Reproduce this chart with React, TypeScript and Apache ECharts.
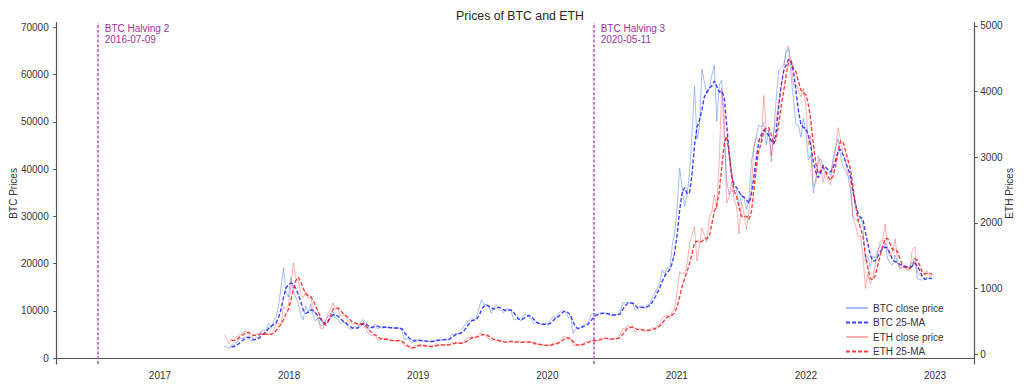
import React, { useEffect, useRef } from "react";
import * as echarts from "echarts";

// Weekly samples (Saturdays) starting 2017-07-01
const START_DATE = "2017-07-01";
const STEP_DAYS = 7;

const btcClose2017 = [2500, 2500, 1930, 2830, 2750, 3230, 4070, 4150, 4350, 4580, 4330, 3680, 3780, 4340, 4440, 5680, 5990, 5750, 7400, 6350, 7790, 8750, 10970, 14870, 19140, 14000, 12950];
const btcClose2018 = [17150, 14300, 12900, 11500, 9170, 8130, 11100, 9660, 11500, 9000, 7900, 8600, 6930, 7020, 8000, 8900, 9350, 9800, 8500, 8250, 7350, 7700, 7500, 6500, 6100, 6400, 6750, 6250, 7400, 8200, 7000, 6300, 6400, 6700, 7200, 6250, 6500, 6700, 6600, 6580, 6300, 6420, 6400, 6370, 6400, 5600, 3900, 4200, 3600, 3200, 4000, 3800];
const btcClose2019 = [3850, 3600, 3650, 3580, 3500, 3660, 3670, 4140, 3820, 3930, 4050, 4000, 4100, 5050, 5100, 5300, 5200, 5830, 7000, 7300, 8050, 8550, 7950, 8800, 10700, 12400, 11200, 11400, 10800, 9500, 10800, 11300, 10200, 10140, 9600, 10480, 10360, 9990, 8200, 8150, 8300, 7950, 9250, 9300, 8800, 8500, 7300, 7550, 7500, 7100, 7150, 7300];
const btcClose2020 = [7350, 8180, 8900, 8450, 9390, 9900, 10300, 9700, 8550, 8900, 5200, 6200, 6250, 6750, 6880, 7140, 7550, 8900, 9550, 9400, 9170, 9700, 9660, 9460, 9300, 9000, 9070, 9280, 9170, 9700, 11800, 11680, 11900, 11650, 11700, 10100, 10400, 11080, 10700, 10550, 11300, 11360, 13000, 13800, 14800, 16000, 18700, 17700, 19150, 18800, 23800, 26500];
const btcClose2021 = [32000, 40200, 36200, 32100, 34300, 39300, 47200, 57500, 46300, 48900, 61200, 58300, 55900, 57100, 59800, 62000, 50100, 57800, 58800, 46700, 37500, 34600, 35500, 35500, 35600, 32200, 34700, 33800, 31500, 33800, 41500, 44600, 47100, 49300, 48900, 49900, 45100, 48300, 42800, 47700, 54900, 60900, 61300, 62000, 64500, 65500, 59700, 54800, 49400, 49300, 46700, 50800];
const btcClose2022 = [47700, 41900, 43100, 35000, 37900, 41500, 42200, 40100, 39200, 39400, 38800, 42200, 44500, 46400, 42800, 40500, 39700, 38500, 35500, 30100, 29400, 29000, 29700, 28400, 20500, 21500, 19300, 21600, 21200, 22600, 23800, 23200, 24400, 21100, 20000, 19800, 21800, 20100, 18900, 19300, 19400, 19100, 19200, 20600, 21300, 16800, 16700, 16500, 17000, 17100, 16800, 16800];

const btcMa2017 = [null, null, null, 2400, 2500, 2700, 3100, 3600, 4000, 4300, 4450, 4250, 3950, 3950, 4200, 4650, 5200, 5650, 6300, 6800, 7100, 7500, 8600, 10300, 12800, 14800, 15600];
const btcMa2018 = [15900, 15700, 14800, 13500, 11900, 10200, 9500, 9700, 10200, 10100, 9600, 8900, 8300, 7600, 7400, 7900, 8600, 9200, 9200, 8900, 8400, 7900, 7600, 7100, 6700, 6400, 6400, 6400, 6800, 7300, 7400, 7000, 6600, 6500, 6800, 6800, 6600, 6500, 6550, 6600, 6500, 6450, 6420, 6400, 6390, 6200, 5400, 4700, 4200, 3800, 3650, 3750];
const btcMa2019 = [3750, 3750, 3700, 3620, 3560, 3560, 3600, 3750, 3850, 3900, 3920, 3980, 4020, 4400, 4800, 5150, 5200, 5400, 5900, 6600, 7300, 7900, 8100, 8300, 9000, 10300, 11000, 11300, 11000, 10700, 10400, 10600, 10800, 10600, 10200, 10100, 10200, 10200, 9700, 8900, 8300, 8200, 8400, 8800, 9050, 8900, 8300, 7700, 7400, 7300, 7200, 7200];
const btcMa2020 = [7250, 7500, 8000, 8500, 8800, 9300, 9800, 9950, 9600, 9050, 7700, 6600, 6300, 6400, 6700, 6900, 7200, 7800, 8500, 9000, 9250, 9400, 9500, 9550, 9450, 9300, 9150, 9150, 9200, 9400, 10300, 11100, 11600, 11700, 11700, 11200, 10700, 10700, 10800, 10750, 10900, 11200, 11900, 12800, 13900, 14900, 16300, 17400, 18200, 18700, 20100, 22400];
const btcMa2021 = [26200, 31300, 35000, 36100, 34800, 35000, 38900, 45000, 48800, 50300, 52500, 55300, 56300, 57100, 57600, 58600, 57500, 56300, 56500, 55300, 49400, 43300, 38500, 36600, 36100, 35200, 34300, 34100, 33500, 32800, 34800, 38400, 42500, 45900, 47300, 48300, 47800, 47100, 46000, 45300, 48000, 53200, 57700, 60700, 62000, 63200, 62800, 60500, 56500, 52300, 49400, 48800];
const btcMa2022 = [48600, 47200, 44800, 41500, 39300, 38200, 39300, 40800, 40400, 39800, 39400, 40300, 41900, 43800, 44200, 43000, 41600, 40100, 38500, 35200, 32700, 30700, 29800, 29400, 26700, 24300, 21800, 20600, 20600, 21500, 22500, 23200, 23500, 23300, 22100, 20900, 20400, 20300, 19800, 19600, 19500, 19300, 19300, 19500, 20100, 19500, 18500, 17300, 16700, 16800, 16900, 16900];

const ethClose2017 = [290, 240, 155, 230, 205, 255, 300, 295, 345, 350, 295, 255, 285, 300, 310, 335, 300, 295, 300, 315, 350, 470, 465, 455, 720, 690, 740];
const ethClose2018 = [1040, 1390, 1160, 1110, 915, 860, 950, 845, 870, 680, 600, 520, 395, 385, 500, 615, 680, 780, 680, 700, 580, 590, 595, 500, 470, 455, 490, 435, 460, 465, 405, 320, 295, 280, 295, 215, 220, 245, 230, 225, 195, 205, 200, 210, 212, 175, 110, 115, 90, 85, 130, 135];
const ethClose2019 = [155, 125, 120, 115, 107, 120, 130, 160, 133, 140, 140, 137, 142, 175, 165, 172, 157, 163, 195, 240, 250, 265, 250, 265, 310, 320, 290, 270, 225, 205, 222, 207, 190, 192, 172, 180, 185, 215, 170, 177, 193, 172, 180, 183, 185, 183, 148, 150, 148, 141, 128, 127];
const ethClose2020 = [134, 144, 170, 160, 183, 223, 265, 262, 218, 237, 125, 130, 131, 144, 158, 186, 194, 214, 211, 199, 207, 243, 241, 247, 229, 220, 225, 241, 236, 305, 386, 395, 438, 395, 428, 335, 373, 385, 354, 346, 370, 367, 408, 385, 435, 448, 550, 575, 596, 545, 654, 685];
const ethClose2021 = [975, 1255, 1230, 1230, 1380, 1680, 1815, 1935, 1420, 1650, 1925, 1810, 1710, 2090, 2165, 2430, 2210, 2950, 4050, 3660, 2300, 2400, 2630, 2350, 2240, 1830, 2320, 2140, 1900, 2190, 2540, 3160, 3300, 3230, 3230, 3940, 3410, 3400, 2930, 3390, 3560, 3830, 4080, 4300, 4650, 4700, 4430, 4100, 4110, 4020, 3920, 4050];
const ethClose2022 = [3770, 3190, 3330, 2560, 2600, 3020, 2880, 2620, 2780, 2630, 2580, 2940, 3140, 3450, 3260, 3060, 2930, 2730, 2640, 2060, 1970, 1790, 1800, 1530, 1000, 1230, 1065, 1170, 1360, 1550, 1720, 1730, 1980, 1580, 1490, 1560, 1760, 1430, 1320, 1310, 1320, 1270, 1310, 1600, 1630, 1250, 1200, 1200, 1240, 1265, 1170, 1220];

const ethMa2017 = [null, null, null, 210, 205, 215, 250, 280, 300, 325, 330, 300, 285, 280, 295, 305, 310, 305, 300, 300, 315, 355, 410, 450, 520, 610, 680];
const ethMa2018 = [820, 990, 1120, 1170, 1100, 1000, 920, 890, 880, 820, 730, 650, 560, 470, 440, 490, 580, 680, 700, 700, 670, 620, 590, 560, 520, 480, 470, 460, 460, 465, 445, 400, 350, 310, 290, 270, 240, 225, 225, 225, 215, 205, 203, 203, 205, 195, 160, 130, 110, 95, 100, 115];
const ethMa2019 = [130, 135, 130, 122, 115, 114, 118, 130, 138, 140, 138, 138, 140, 150, 160, 168, 168, 165, 172, 195, 220, 245, 255, 258, 270, 290, 300, 295, 270, 245, 225, 215, 207, 200, 190, 182, 180, 190, 190, 185, 183, 180, 180, 180, 183, 184, 172, 160, 150, 146, 138, 132];
const ethMa2020 = [130, 134, 145, 155, 165, 185, 215, 245, 250, 235, 190, 150, 135, 135, 145, 160, 175, 190, 202, 205, 205, 215, 230, 238, 238, 232, 227, 230, 235, 255, 300, 350, 395, 405, 410, 390, 375, 370, 370, 360, 358, 362, 375, 385, 405, 425, 470, 520, 565, 580, 595, 630];
const ethMa2021 = [720, 870, 1030, 1150, 1260, 1380, 1520, 1700, 1720, 1700, 1720, 1760, 1760, 1800, 1980, 2170, 2270, 2480, 2850, 3200, 3320, 3050, 2750, 2480, 2400, 2230, 2100, 2090, 2100, 2050, 2170, 2500, 2850, 3100, 3220, 3400, 3450, 3450, 3350, 3210, 3270, 3500, 3780, 4000, 4250, 4450, 4470, 4350, 4300, 4150, 4020, 3980];
const ethMa2022 = [3950, 3800, 3550, 3200, 2900, 2750, 2800, 2850, 2780, 2700, 2650, 2720, 2870, 3100, 3250, 3230, 3100, 2950, 2820, 2550, 2280, 2050, 1920, 1800, 1520, 1320, 1150, 1130, 1200, 1350, 1500, 1640, 1760, 1760, 1680, 1590, 1600, 1560, 1450, 1350, 1320, 1310, 1300, 1350, 1450, 1430, 1350, 1250, 1220, 1230, 1230, 1220];

const halvingNames = ["BTC Halving 2", "BTC Halving 3"];
const halvingDates = ["2016-07-09", "2020-05-11"];
const yearTicks = [2017, 2018, 2019, 2020, 2021, 2022, 2023];
const btcTicks = [0, 10000, 20000, 30000, 40000, 50000, 60000, 70000];
const ethTicks = [0, 1000, 2000, 3000, 4000, 5000];

const btcClose = [...btcClose2017, ...btcClose2018, ...btcClose2019, ...btcClose2020, ...btcClose2021, ...btcClose2022];
const btcMa = [...btcMa2017, ...btcMa2018, ...btcMa2019, ...btcMa2020, ...btcMa2021, ...btcMa2022];
const ethClose = [...ethClose2017, ...ethClose2018, ...ethClose2019, ...ethClose2020, ...ethClose2021, ...ethClose2022];
const ethMa = [...ethMa2017, ...ethMa2018, ...ethMa2019, ...ethMa2020, ...ethMa2021, ...ethMa2022];

const DAY = 86400000;
const startTs = Date.parse(START_DATE);
const dates = btcClose.map((_, i) => startTs + i * STEP_DAYS * DAY);
const pair = (arr: (number | null)[]) => arr.map((v, i) => [dates[i], v]);

const X_MIN = Date.parse("2016-03-15");
const X_MAX = Date.parse("2023-04-22");
const FONT = "Liberation Sans, Arial, sans-serif";
const TEXT = "#333333";
const SPINE = "#555555";

export default function App() {
  const ref = useRef<HTMLDivElement>(null);
  useEffect(() => {
    if (!ref.current) return;
    const chart = echarts.init(ref.current, null, { renderer: "svg" });
    const halvingTs = halvingDates.map((d) => Date.parse(d));
    chart.setOption({
      animation: false,
      backgroundColor: "#ffffff",
      textStyle: { fontFamily: FONT },
      title: {
        text: "Prices of BTC and ETH",
        left: 515,
        top: 5,
        textAlign: "center",
        textStyle: { fontSize: 12.3, fontWeight: "normal", color: "#262626", fontFamily: FONT },
      },
      grid: {
        left: 56.7,
        right: 49.7,
        top: 22.7,
        bottom: 24,
        containLabel: false,
        outerBoundsMode: "none",
      },
      legend: {
        orient: "vertical",
        left: 845,
        top: 303,
        padding: 0,
        itemWidth: 22,
        itemHeight: 10,
        itemGap: 4.5,
        itemStyle: { opacity: 0 },
        textStyle: { fontSize: 10, color: TEXT, fontFamily: FONT },
        data: ["BTC close price", "BTC 25-MA", "ETH close price", "ETH 25-MA"],
      },
      xAxis: {
        type: "value",
        min: X_MIN,
        max: X_MAX,
        splitLine: { show: false },
        axisLine: { show: true, lineStyle: { color: SPINE, width: 1.2 } },
        axisTick: { show: false },
        axisLabel: {
          customValues: yearTicks.map((y) => Date.UTC(y, 0, 1)),
          formatter: (v: number) => String(new Date(v).getUTCFullYear()),
          fontSize: 10,
          color: TEXT,
          margin: 6,
        },
      },
      yAxis: [
        {
          type: "value",
          min: -1205,
          max: 70950,
          name: "BTC Prices",
          nameLocation: "middle",
          nameRotate: 90,
          nameGap: 38,
          nameMoveOverlap: false,
          nameTextStyle: { fontSize: 10, color: TEXT },
          splitLine: { show: false },
          axisLine: { show: true, lineStyle: { color: SPINE, width: 1.2 } },
          axisTick: { show: true, length: 3.5, customValues: btcTicks, lineStyle: { color: SPINE } },
          axisLabel: {
            customValues: btcTicks,
            formatter: (v: number) => String(v),
            fontSize: 10,
            color: TEXT,
            margin: 8,
          },
        },
        {
          type: "value",
          position: "right",
          min: -152,
          max: 5050,
          name: "ETH Prices",
          nameLocation: "middle",
          nameRotate: 90,
          nameGap: 30,
          nameMoveOverlap: false,
          nameTextStyle: { fontSize: 10, color: TEXT },
          splitLine: { show: false },
          axisLine: { show: true, lineStyle: { color: SPINE, width: 1.2 } },
          axisTick: { show: true, length: 3.5, customValues: ethTicks, lineStyle: { color: SPINE } },
          axisLabel: {
            customValues: ethTicks,
            formatter: (v: number) => String(v),
            fontSize: 10,
            color: TEXT,
            margin: 6,
          },
        },
      ],
      series: [
        {
          name: "BTC close price",
          type: "line",
          yAxisIndex: 0,
          showSymbol: false,
          symbol: "none",
          data: pair(btcClose),
          lineStyle: { color: "#6495ED", width: 1, opacity: 0.6 },
          itemStyle: { color: "#6495ED" },
          z: 2,
          markLine: {
            silent: true,
            symbol: "none",
            label: { show: false },
            lineStyle: { color: "#b54db8", type: [3, 1.8], width: 1.5, opacity: 1 },
            data: halvingTs.map((t) => ({ xAxis: t })),
          },
          markPoint: {
            silent: true,
            symbol: "circle",
            symbolSize: 0,
            itemStyle: { opacity: 1 },
            label: {
              show: true,
              position: [7, 0],
              align: "left",
              verticalAlign: "top",
              fontSize: 10,
              lineHeight: 11.5,
              color: "#993399",
              fontFamily: FONT,
            },
            data: halvingTs.map((t, i) => ({
              coord: [t, 70950],
              value: halvingNames[i] + "\n" + halvingDates[i],
              label: { formatter: halvingNames[i] + "\n" + halvingDates[i] },
            })),
          },
        },
        {
          name: "BTC 25-MA",
          type: "line",
          yAxisIndex: 0,
          showSymbol: false,
          symbol: "none",
          data: pair(btcMa),
          lineStyle: { color: "#0000ff", width: 1.4, type: [4, 2], opacity: 0.75 },
          itemStyle: { color: "#0000ff" },
          z: 3,
        },
        {
          name: "ETH close price",
          type: "line",
          yAxisIndex: 1,
          showSymbol: false,
          symbol: "none",
          data: pair(ethClose),
          lineStyle: { color: "#ff0000", width: 1, opacity: 0.3 },
          itemStyle: { color: "#ff0000" },
          z: 4,
        },
        {
          name: "ETH 25-MA",
          type: "line",
          yAxisIndex: 1,
          showSymbol: false,
          symbol: "none",
          data: pair(ethMa),
          lineStyle: { color: "#ff0000", width: 1.4, type: [4, 2], opacity: 0.75 },
          itemStyle: { color: "#ff0000" },
          z: 5,
        },
      ],
    });
    return () => chart.dispose();
  }, []);
  return (
    <div
      ref={ref}
      style={{ position: "fixed", left: 0, top: 0, width: 1024, height: 388, background: "#fff" }}
    />
  );
}
